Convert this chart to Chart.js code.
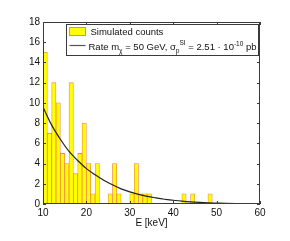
<!DOCTYPE html>
<html>
<head>
<meta charset="utf-8">
<script src="https://cdn.jsdelivr.net/npm/chart.js@4/dist/chart.umd.min.js"></script>
<style>
html,body{margin:0;padding:0;background:#fff;}
#wrap{width:290px;height:241px;position:relative;}
</style>
</head>
<body>
<div id="wrap"><canvas id="c" width="290" height="241"></canvas></div>
<script>
// Histogram bins (lower edge, keV) and simulated counts
const binStart = [10,11,12,13,14,15,16,17,18,19,20,21,22,23,24,25,26,27,28,29,30,31,32,33,34,35,36,37,38,39,40,41,42,43,44,45,46,47,48,49,50,51,52,53,54,55,56,57,58,59];
const counts   = [15,7,12,10,5,4,12,3,5,8,4,1,4,0,0,1,4,1,0,0,1,4,1,1,1,0,0,0,0,0,0,0,1,0,1,0,0,0,1,0,0,0,0,0,0,0,0,0,0,0];
// Expected rate curve
const rateE = [10,12,14,16,18,20,22,24,26,28,30,32,34,36,38,40,42,44,46,48,50,52,55,60];
const rateV = [9.6,7.8,6.4,5.2,4.3,3.5,2.9,2.35,1.9,1.5,1.2,0.95,0.75,0.6,0.47,0.37,0.28,0.21,0.16,0.12,0.09,0.06,0.04,0.02];
// Tick labels
const xTicks = [10,20,30,40,50,60];
const yTicks = [0,2,4,6,8,10,12,14,16,18];

const FONT = '"Liberation Sans", Arial, sans-serif';
const AXIS = '#3a3a3a';
const BAR_FILL = '#ffff00';
const BAR_EDGE = '#f08a50';
const LINE_COL = '#222222';

const boxTicks = {
  id: 'boxTicks',
  afterDatasetsDraw(chart) {
    const {ctx, chartArea: a, scales: {x, y}} = chart;
    ctx.save();
    ctx.strokeStyle = AXIS;
    ctx.lineWidth = 1;
    ctx.beginPath();
    ctx.rect(Math.round(a.left) + 0.5, Math.round(a.top) + 0.5, Math.round(a.right - a.left) - 1, Math.round(a.bottom - a.top) - 1);
    const L = 3;
    xTicks.forEach(v => {
      const px = Math.round(x.getPixelForValue(v)) + 0.5;
      ctx.moveTo(px, a.bottom); ctx.lineTo(px, a.bottom - L);
      ctx.moveTo(px, a.top); ctx.lineTo(px, a.top + L);
    });
    yTicks.forEach(v => {
      const py = Math.round(y.getPixelForValue(v)) + 0.5;
      ctx.moveTo(a.left, py); ctx.lineTo(a.left + L, py);
      ctx.moveTo(a.right, py); ctx.lineTo(a.right - L, py);
    });
    ctx.stroke();
    ctx.restore();
  }
};

function drawRich(ctx, x, y, parts, base) {
  parts.forEach(p => {
    const size = p.s || base;
    ctx.font = size + 'px ' + FONT;
    ctx.fillText(p.t, x, y + (p.dy || 0));
    x += ctx.measureText(p.t).width;
  });
}

const customLegend = {
  id: 'customLegend',
  afterDraw(chart) {
    const {ctx, chartArea: a} = chart;
    const left = Math.round(a.left + 23) + 0.5;
    const top = Math.round(a.top + 2) + 0.5;
    const right = Math.round(a.right - 2) + 0.5;
    const h = 31;
    ctx.save();
    ctx.fillStyle = '#fff';
    ctx.fillRect(left, top, right - left, h);
    ctx.strokeStyle = AXIS;
    ctx.lineWidth = 1;
    ctx.strokeRect(left, top, right - left, h);
    // swatch
    ctx.fillStyle = BAR_FILL;
    ctx.fillRect(left + 3, top + 3, 16, 8);
    ctx.strokeStyle = BAR_EDGE;
    ctx.strokeRect(left + 3, top + 3, 16, 8);
    // line sample
    ctx.strokeStyle = '#555';
    ctx.lineWidth = 1.2;
    ctx.beginPath();
    ctx.moveTo(left + 3, top + 21);
    ctx.lineTo(left + 19, top + 21);
    ctx.stroke();
    ctx.fillStyle = '#111';
    ctx.textBaseline = 'alphabetic';
    const base = 9.5, small = 6.5;
    drawRich(ctx, left + 24, top + 10.5, [{t: 'Simulated counts'}], base);
    drawRich(ctx, left + 22, top + 25, [
      {t: 'Rate m'},
      {t: 'χ', s: small, dy: 3},
      {t: ' = 50 GeV, σ'},
      {t: 'p', s: small, dy: 3},
      {t: 'SI', s: small, dy: -5},
      {t: ' = 2.51 · 10'},
      {t: '-10', s: small, dy: -4},
      {t: ' pb'}
    ], base);
    ctx.restore();
  }
};

new Chart(document.getElementById('c'), {
  type: 'bar',
  data: {
    datasets: [
      {
        type: 'line',
        label: 'Rate',
        data: rateE.map((e, i) => ({x: e, y: rateV[i]})),
        borderColor: LINE_COL,
        borderWidth: 1.2,
        pointRadius: 0,
        tension: 0.4,
        cubicInterpolationMode: 'monotone',
        fill: false,
        order: 0
      },
      {
        type: 'bar',
        label: 'Simulated counts',
        data: binStart.map((b, i) => ({x: b + 0.5, y: counts[i] === 0 ? null : counts[i]})),
        backgroundColor: BAR_FILL,
        borderColor: BAR_EDGE,
        borderWidth: 0.8,
        borderSkipped: false,
        barPercentage: 1,
        categoryPercentage: 1,
        grouped: false,
        order: 1
      }
    ]
  },
  options: {
    responsive: false,
    animation: false,
    layout: {padding: {left: 0, right: 30, top: 22, bottom: 11}},
    plugins: {legend: {display: false}, tooltip: {enabled: false}},
    scales: {
      x: {
        type: 'linear',
        offset: false,
        min: 10, max: 60,
        grid: {display: false, drawTicks: false, offset: false},
        border: {display: false},
        afterBuildTicks: s => { s.ticks = xTicks.map(v => ({value: v})); },
        afterFit: s => { s.height = 26; },
        ticks: {color: '#111', font: {family: FONT, size: 10}, padding: 3, maxRotation: 0, autoSkip: false},
        title: {display: true, text: 'E [keV]', color: '#111', font: {family: FONT, size: 10}, padding: {top: 0, bottom: 1}}
      },
      y: {
        min: 0, max: 18,
        grid: {display: false, drawTicks: false},
        border: {display: false},
        afterBuildTicks: s => { s.ticks = yTicks.map(v => ({value: v})); },
        afterFit: s => { s.width = 43; },
        ticks: {color: '#111', font: {family: FONT, size: 10}, padding: 3, autoSkip: false}
      }
    }
  },
  plugins: [boxTicks, customLegend]
});
</script>
</body>
</html>
